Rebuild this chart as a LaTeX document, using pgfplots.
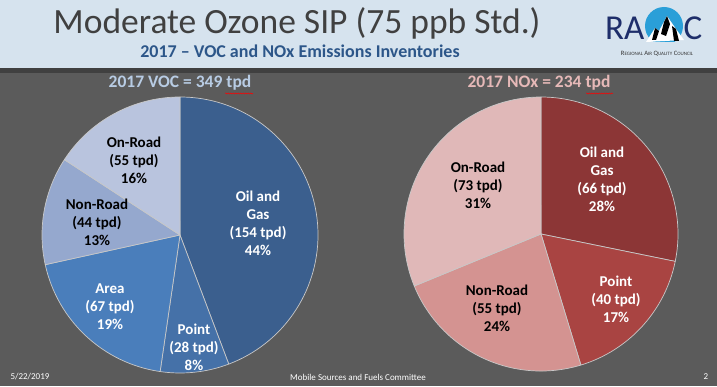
\documentclass[border=0pt]{standalone}
\usepackage{pgfplots}
\pgfplotsset{compat=1.18}
\usepackage{pgfplotstable}
\usetikzlibrary{decorations.pathmorphing}
\usepackage{fontspec}
\setmainfont{Carlito}

\definecolor{bgcol}{HTML}{5B5B5B}
\definecolor{headcol}{HTML}{D6E3EE}
\definecolor{stripcol}{HTML}{404040}
\definecolor{titlecol}{HTML}{404040}
\definecolor{subcol}{HTML}{2C5689}
\definecolor{navy}{HTML}{1E2E6A}
\definecolor{skyblue}{HTML}{2A9FD8}
\definecolor{vocA}{HTML}{3B5F8E}
\definecolor{vocB}{HTML}{4571A8}
\definecolor{vocC}{HTML}{4A7EBB}
\definecolor{vocD}{HTML}{95A8CE}
\definecolor{vocE}{HTML}{B9C4DE}
\definecolor{noxA}{HTML}{8C3636}
\definecolor{noxB}{HTML}{A94442}
\definecolor{noxC}{HTML}{D49391}
\definecolor{noxD}{HTML}{E0B8B8}
\definecolor{voctitle}{HTML}{B8CCE4}
\definecolor{noxtitle}{HTML}{E6B9B8}
\definecolor{slicebord}{HTML}{C8C8C8}

\pgfplotstableread{
name tpd col
OilGas 154 vocA
Point 28 vocB
Area 67 vocC
NonRoad 44 vocD
OnRoad 55 vocE
}\voctab

\pgfplotstableread{
name tpd col
OilGas 66 noxA
Point 40 noxB
NonRoad 55 noxC
OnRoad 73 noxD
}\noxtab

% draws a pie (clockwise from 12 o'clock) from table #1 centred at axis (#2,#3), radius #4 (axis units = pt)
\newcommand\drawpie[4]{%
  \pgfplotstablegetrowsof{#1}%
  \pgfmathtruncatemacro\nrows{\pgfplotsretval-1}%
  \xdef\total{0}%
  \pgfplotsforeachungrouped \i in {0,...,\nrows}{%
    \pgfplotstablegetelem{\i}{tpd}\of#1%
    \pgfmathparse{\total+\pgfplotsretval}\xdef\total{\pgfmathresult}%
  }%
  \xdef\curang{90}%
  \pgfplotsforeachungrouped \i in {0,...,\nrows}{%
    \pgfplotstablegetelem{\i}{tpd}\of#1%
    \pgfmathparse{\curang-\pgfplotsretval/\total*360}\xdef\endang{\pgfmathresult}%
    \pgfplotstablegetelem{\i}{col}\of#1%
    \xdef\curcol{\pgfplotsretval}%
    \edef\temp{\noexpand\filldraw[fill=\curcol, draw=slicebord, line width=0.7pt, line join=round]
      (axis cs:#2,#3) -- ++(\curang:#4pt) arc[start angle=\curang, end angle=\endang, radius=#4pt] -- cycle;}%
    \temp
    \xdef\curang{\endang}%
  }%
}

\newcommand\lbl{\fontsize{15}{18}\selectfont\bfseries}

\begin{document}
\begin{tikzpicture}
\begin{axis}[
  at={(0,0)}, anchor=south west,
  width=717pt, height=386pt, scale only axis,
  xmin=0, xmax=717, ymin=0, ymax=386,
  hide axis, clip=false,
]
% background
\fill[bgcol] (axis cs:0,0) rectangle (axis cs:717,386);
\fill[headcol] (axis cs:0,318) rectangle (axis cs:717,386);
\fill[stripcol] (axis cs:0,313) rectangle (axis cs:717,318);

% titles
\node[text=titlecol, font=\fontsize{35.5}{37}\selectfont] at (axis cs:297,363) {Moderate Ozone SIP (75 ppb Std.)};
\node[text=subcol, font=\fontsize{18}{20}\selectfont\bfseries] at (axis cs:300,335) {2017 – VOC and NOx Emissions Inventories};

% logo
\node[text=navy, font=\fontsize{35}{36}\selectfont, anchor=east] at (axis cs:648,358) {RA};
\fill[skyblue] (axis cs:664,360) circle[radius=19pt];
\fill[white] (axis cs:646,344) -- (axis cs:655,358) -- (axis cs:659,355) -- (axis cs:667,370) -- (axis cs:676,357) -- (axis cs:684,346) -- cycle;
\fill[black] (axis cs:655,358) -- (axis cs:659,355) -- (axis cs:656,346) -- (axis cs:652,346) -- cycle;
\fill[black] (axis cs:664,364) -- (axis cs:667,370) -- (axis cs:670,362) -- (axis cs:666,350) -- (axis cs:661,352) -- cycle;
\fill[black] (axis cs:672,360) -- (axis cs:676,357) -- (axis cs:679,345) -- (axis cs:674,345) -- cycle;
\fill[headcol] (axis cs:640,341) rectangle (axis cs:690,344);
\node[text=navy, font=\fontsize{35}{36}\selectfont, anchor=west] at (axis cs:680,358) {C};
\node[text=black!80, font=\fontsize{6.6}{7}\selectfont] at (axis cs:657,332)
  {R{\fontsize{5}{6}\selectfont EGIONAL} A{\fontsize{5}{6}\selectfont IR} Q{\fontsize{5}{6}\selectfont UALITY} C{\fontsize{5}{6}\selectfont OUNCIL}};

% pie titles
\node[text=voctitle, font=\fontsize{17.5}{19}\selectfont\bfseries] at (axis cs:180,303) {2017 VOC = 349 tpd};
\node[text=noxtitle, font=\fontsize{17.5}{19}\selectfont\bfseries] at (axis cs:539,303) {2017 NOx = 234 tpd};
\draw[red, line width=0.5pt, decorate, decoration={snake, amplitude=0.6pt, segment length=2.5pt}] (axis cs:225,292.5) -- (axis cs:253,292.5);
\draw[red, line width=0.5pt, decorate, decoration={snake, amplitude=0.6pt, segment length=2.5pt}] (axis cs:586,292.5) -- (axis cs:613,292.5);

% pies
\drawpie{\voctab}{180}{151}{138}
\drawpie{\noxtab}{541}{152}{137}

% VOC labels
\node[align=center, text=white, font=\lbl] at (axis cs:258,163) {Oil and\\Gas\\(154 tpd)\\44\%};
\node[align=center, text=white, font=\lbl] at (axis cs:194,39) {Point\\(28 tpd)\\8\%};
\node[align=center, text=white, font=\lbl] at (axis cs:110,79) {Area\\(67 tpd)\\19\%};
\node[align=center, text=black, font=\lbl] at (axis cs:97,164) {Non-Road\\(44 tpd)\\13\%};
\node[align=center, text=black, font=\lbl] at (axis cs:134,226) {On-Road\\(55 tpd)\\16\%};

% NOx labels
\node[align=center, text=white, font=\lbl] at (axis cs:602,207) {Oil and\\Gas\\(66 tpd)\\28\%};
\node[align=center, text=white, font=\lbl] at (axis cs:616,87) {Point\\(40 tpd)\\17\%};
\node[align=center, text=black, font=\lbl] at (axis cs:497,78) {Non-Road\\(55 tpd)\\24\%};
\node[align=center, text=black, font=\lbl] at (axis cs:478,201) {On-Road\\(73 tpd)\\31\%};

% footer
\node[text=white, font=\fontsize{9}{10}\selectfont, anchor=west] at (axis cs:7,9) {5/22/2019};
\node[text=white, font=\fontsize{9}{10}\selectfont] at (axis cs:358,9) {Mobile Sources and Fuels Committee};
\node[text=white, font=\fontsize{9}{10}\selectfont] at (axis cs:706,9) {2};
\end{axis}
\pgfresetboundingbox
\path[use as bounding box] (0,0) rectangle (717pt,386pt);
\end{tikzpicture}
\end{document}
